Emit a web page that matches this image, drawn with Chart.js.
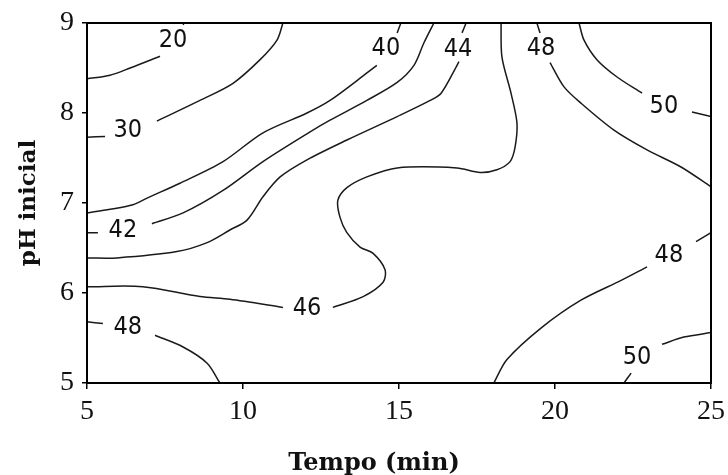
<!DOCTYPE html>
<html>
<head>
<meta charset="utf-8">
<script src="https://cdn.jsdelivr.net/npm/chart.js@4.4.0/dist/chart.umd.min.js"></script>
<style>
  html, body { margin: 0; padding: 0; background: #fff; }
  #wrap { width: 728px; height: 475px; }
</style>
</head>
<body>
<div id="wrap"><canvas id="contour"></canvas></div>
<script>
// Axis ticks
const timeTicks = [5, 10, 15, 20, 25];
const phTicks = [5, 6, 7, 8, 9];

// Contour lines: x = tempo (min), y = pH; null marks the break where the label sits
const c20x = [5, 5.74, 6.38, 7.34, null, 8.08, 8.11];
const c20y = [8.38, 8.42, 8.50, 8.63, null, 8.98, 9];

const c30x = [5, 5.58, null, 7.24, 8.62, 9.68, 10.54, 11.09, 11.28];
const c30y = [7.73, 7.74, null, 7.91, 8.14, 8.33, 8.59, 8.81, 9];

const c40x = [5, 5.74, 6.47, 6.96, 7.98, 9.36, 10.64, 12.05, 12.79, 13.88, 14.29, null, 14.94, 15.06];
const c40y = [6.89, 6.93, 6.98, 7.06, 7.22, 7.46, 7.78, 8.0, 8.14, 8.42, 8.53, null, 8.89, 9];

const c42x = [5, 5.35, null, 7.08, 8.08, 9.36, 10.64, 12.15, 12.79, 13.97, 14.94, 15.48, 15.80, 16.12];
const c42y = [6.67, 6.67, null, 6.77, 6.89, 7.14, 7.46, 7.79, 7.92, 8.14, 8.34, 8.53, 8.78, 9];

const c44x = [5, 5.96, 7.88, 8.85, 9.58, 10.13, 10.64, 11.19, 12.05, 13.33, 14.94, 16.0, 16.35, 16.83, 16.92, null, 17.02, 17.15];
const c44y = [6.39, 6.39, 6.46, 6.56, 6.70, 6.81, 7.07, 7.29, 7.48, 7.70, 7.96, 8.14, 8.22, 8.51, 8.57, null, 8.89, 9];

const c46x = [5, 6.79, 8.62, 9.58, 11.28, null, 12.88, 13.85, 14.49, 14.55, 14.17, 13.75, 13.33, 13.11, 13.04, 13.33, 13.97, 14.94, 16.86, 17.60, 18.14, 18.56, 18.72, 18.78, 18.59, 18.30, 18.27];
const c46y = [6.07, 6.07, 5.96, 5.93, 5.84, null, 5.84, 5.96, 6.12, 6.26, 6.44, 6.51, 6.67, 6.84, 7.03, 7.17, 7.29, 7.39, 7.39, 7.34, 7.37, 7.46, 7.62, 7.89, 8.22, 8.62, 9];

const c48ax = [19.42, 19.52, null, 19.84, 20.29, 20.83, 21.89, 22.95, 24.04, 25];
const c48ay = [9, 8.89, null, 8.56, 8.29, 8.11, 7.81, 7.59, 7.40, 7.18];

const c50ax = [20.77, 20.93, 21.35, 21.99, 22.79, null, 24.39, 25];
const c50ay = [9, 8.81, 8.59, 8.40, 8.22, null, 8.01, 7.96];

const c48bx = [25, 24.52, null, 22.95, 22.12, 20.83, 19.55, 18.46, 18.04];
const c48by = [6.67, 6.57, null, 6.29, 6.14, 5.92, 5.61, 5.26, 5];

const c50bx = [25, 24.13, 23.43, null, 22.44, 22.21];
const c50by = [5.56, 5.51, 5.43, null, 5.11, 5];

const c48cx = [5, 5.51, null, 7.18, 8.08, 8.85, 9.26];
const c48cy = [5.68, 5.66, null, 5.53, 5.40, 5.22, 5];

// Contour labels
const labelText = ['20', '30', '40', '42', '44', '46', '48', '50', '48', '50', '48'];
const labelX = [7.76, 6.31, 14.58, 6.15, 16.89, 12.05, 19.55, 23.49, 23.65, 22.63, 6.31];
const labelY = [8.81, 7.81, 8.72, 6.69, 8.71, 5.83, 8.72, 8.07, 6.42, 5.28, 5.62];

const contours = [
    [c20x, c20y], [c30x, c30y], [c40x, c40y], [c42x, c42y], [c44x, c44y], [c46x, c46y],
    [c48ax, c48ay], [c50ax, c50ay], [c48bx, c48by], [c50bx, c50by], [c48cx, c48cy]
];

function toPoints(xs, ys) {
    return xs.map((x, i) => x === null ? { x: NaN, y: null } : { x: x, y: ys[i] });
}

const labelFont = '25px "DejaVu Sans Condensed", "DejaVu Sans", sans-serif';
const tickFont = { family: '"Liberation Serif", "DejaVu Serif", serif', size: 28 };

// Frame around the plot, contour value labels and the x title
const contourLabels = {
    id: 'contourLabels',
    afterDatasetsDraw(chart) {
        const { ctx, chartArea: a, scales: { x, y } } = chart;
        ctx.save();
        ctx.strokeStyle = '#000';
        ctx.lineWidth = 2;
        ctx.strokeRect(a.left, a.top, a.right - a.left, a.bottom - a.top);
        ctx.fillStyle = '#111';
        ctx.font = labelFont;
        ctx.textAlign = 'center';
        ctx.textBaseline = 'middle';
        labelText.forEach((t, i) => {
            ctx.fillText(t, x.getPixelForValue(labelX[i]), y.getPixelForValue(labelY[i]));
        });
        ctx.font = 'bold 24px "DejaVu Serif", serif';
        ctx.textBaseline = 'alphabetic';
        ctx.fillText('Tempo (min)', (a.left + a.right) / 2 - 25, chart.height - 5);
        ctx.restore();
    }
};

const ctx = document.getElementById('contour').getContext('2d');
new Chart(ctx, {
    type: 'scatter',
    data: {
        datasets: contours.map(c => ({
            data: toPoints(c[0], c[1]),
            showLine: true,
            spanGaps: false,
            borderColor: '#1a1a1a',
            borderWidth: 1.5,
            pointRadius: 0,
            tension: 0.3
        }))
    },
    options: {
        responsive: true,
        maintainAspectRatio: false,
        animation: false,
        events: [],
        layout: { padding: { top: 23, right: 17, left: 0, bottom: 0 } },
        plugins: { legend: { display: false }, tooltip: { enabled: false } },
        scales: {
            x: {
                type: 'linear',
                min: 5, max: 25,
                afterBuildTicks: s => { s.ticks = timeTicks.map(v => ({ value: v })); },
                afterFit: s => { s.height = 92; s.paddingLeft = 0; s.paddingRight = 0; },
                grid: { drawOnChartArea: false, drawTicks: true, tickLength: 6, color: '#000', lineWidth: 1.5 },
                border: { display: true, color: '#000', width: 2 },
                ticks: { color: '#111', padding: 6, font: tickFont },
                title: { display: false }
            },
            y: {
                type: 'linear',
                min: 5, max: 9,
                afterBuildTicks: s => { s.ticks = phTicks.map(v => ({ value: v })); },
                afterFit: s => { s.width = 87; s.paddingTop = 0; s.paddingBottom = 0; },
                grid: { drawOnChartArea: false, drawTicks: true, tickLength: 5, color: '#000', lineWidth: 1.5 },
                border: { display: true, color: '#000', width: 2 },
                ticks: { color: '#111', padding: 8, font: tickFont },
                title: {
                    display: true, text: 'pH inicial', color: '#111',
                    padding: { top: 15, bottom: 0 },
                    font: { family: '"DejaVu Serif", serif', size: 23, weight: 'bold' }
                }
            }
        }
    },
    plugins: [contourLabels]
});
</script>
</body>
</html>
